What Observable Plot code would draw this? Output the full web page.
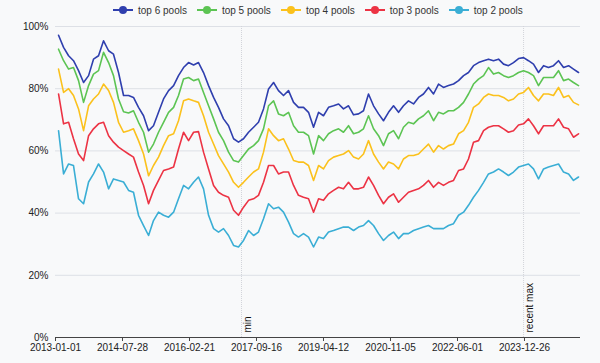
<!DOCTYPE html>
<html><head><meta charset="utf-8">
<script src="https://cdn.jsdelivr.net/npm/d3@7"></script>
<script src="https://cdn.jsdelivr.net/npm/@observablehq/plot@0.6"></script>
<style>
html,body{margin:0;padding:0;background:#f8f9fa;}
#wrap{position:relative;width:600px;height:363px;font-family:"Liberation Sans",Arial,Helvetica,sans-serif;}
#legend{position:absolute;left:113px;top:3px;height:14px;display:flex;align-items:center;gap:10px;}
.item{display:flex;align-items:center;font-size:10px;color:#333;gap:5px;white-space:nowrap;}
#chart{position:absolute;left:0;top:20px;}
</style>
</head><body>
<div id="wrap"><div id="legend"></div><div id="chart"></div></div>
<script>
const names = ["top 6 pools","top 5 pools","top 4 pools","top 3 pools","top 2 pools"];
const colors = ["#2f3fae","#5cc453","#fbc11c","#ec3344","#3aaed5"];
const dates = [
"2013-01-27","2013-03-11","2013-04-23","2013-06-04","2013-07-17","2013-08-29","2013-10-11","2013-11-22",
"2014-01-04","2014-02-16","2014-03-31","2014-05-12","2014-06-24","2014-08-06","2014-09-18","2014-10-30","2014-12-12",
"2015-01-24","2015-03-08","2015-04-19","2015-06-01","2015-07-14","2015-08-26","2015-10-08","2015-11-19",
"2016-01-01","2016-02-13","2016-03-27","2016-05-08","2016-06-20","2016-08-02","2016-09-14","2016-10-26","2016-12-08",
"2017-01-20","2017-03-04","2017-04-15","2017-05-28","2017-07-10","2017-08-22","2017-10-03","2017-11-15","2017-12-28",
"2018-02-09","2018-03-23","2018-05-05","2018-06-17","2018-07-30","2018-09-10","2018-10-23","2018-12-05",
"2019-01-17","2019-03-01","2019-04-12","2019-05-25","2019-07-07","2019-08-19","2019-09-30","2019-11-12","2019-12-25",
"2020-02-06","2020-03-19","2020-05-01","2020-06-13","2020-07-26","2020-09-06","2020-10-19","2020-12-01",
"2021-01-13","2021-02-24","2021-04-08","2021-05-21","2021-07-03","2021-08-14","2021-09-26","2021-11-08","2021-12-21",
"2022-02-01","2022-03-16","2022-04-28","2022-06-10","2022-07-23","2022-09-03","2022-10-16","2022-11-28",
"2023-01-10","2023-02-21","2023-04-05","2023-05-18","2023-06-30","2023-08-11","2023-09-23","2023-11-05","2023-12-18",
"2024-01-29","2024-03-12","2024-04-24","2024-06-06","2024-07-18","2024-08-30","2024-10-12","2024-11-24",
"2025-01-06","2025-02-17","2025-04-01"];
const top6 = [97.2,93.3,90.6,89,85.8,82,84.2,89.5,90.6,95.4,92.2,91.1,85.2,77.8,77.8,77.2,74,71.3,66.5,68.1,72.4,76.7,79.4,81,84.2,86.8,
88.4,87.6,88.4,85.2,81,77.2,74,70.3,68.1,63.9,62.8,63.9,66,67.6,69.2,73.5,79.9,82,79.4,77.8,79.4,75.6,74,74,72.4,67.6,72.4,
71.3,74,74.5,75.1,73.5,74.5,71.6,71.9,72.9,78.3,74.5,71.9,69.7,72.4,74.5,72.4,74.5,76.1,75.1,77.2,78.3,80.4,78.3,81.5,80.4,81,81.5,
82.6,84.2,85.2,87.4,88.4,89,89.5,89,89.5,87.9,87.4,88.4,89.7,90,89,87.9,85.2,87.4,86.8,87.4,89,86.8,87.4,86.3,85.2];
const top5 = [92.7,89,86.3,86.8,82.6,75.6,81,84.7,85.8,91.7,88.4,84.2,76.7,72.6,72.2,72.9,69.2,66,59.6,62.2,66,69.2,72.4,74,77.8,83.1,
83.6,82.6,83.1,78.8,74.5,70.3,66,63.3,59.6,56.9,56.4,58.5,60.6,61.7,63.3,67.1,74.5,76.1,71.9,71.3,72.4,68.1,66,66,64.9,59,64.9,
63.3,65.5,66.5,67.1,66,68.1,65.5,66,67.1,71.3,67.1,64.9,61.7,65.5,66.5,63.9,67.6,69.2,68.7,70.3,71.3,72.9,69.7,72.4,71.9,72.9,72.9,
74,75.6,78.3,81.5,83.1,84.2,86.8,84.7,85.2,84.2,83.6,84.2,85.2,85.8,85.2,84.2,81,83.6,83.6,83.6,85.8,82.6,83.1,82,81];
const top4 = [86.3,78.8,80,77.8,73.5,66.5,74.5,76.7,78.3,81.5,79.4,75.6,69.2,66,66.5,67.1,63.3,59,52,55.3,58,61.7,64.9,65.5,69.7,76.1,
76.7,76.1,75.6,71.3,66,62.2,58.5,55.8,53.2,49.9,48.3,49.9,51.6,53.2,54.2,59.6,67.1,64.9,63.3,63.9,60.6,56.9,56.4,56.4,55.3,50.5,55.3,
54.2,56.9,58,58.5,59,60.1,58,57.4,59,63.3,59,56.4,54.2,56.4,55.8,54.2,57.4,58.5,58.5,59,60.6,62.2,59.6,61.7,60.6,61.7,62.2,
65.5,66.5,69.2,74,75.1,77.2,78.3,77.8,77.8,77.2,76.1,76.7,78.3,78.8,80.4,77.8,76.1,78.3,78.3,77.8,80.4,77.2,77.8,75.6,74.8];
const top3 = [78.3,68.7,69.2,63.9,59,56.9,64.9,67.1,68.7,69.2,64.9,62.8,61.2,60.1,59,58,53.2,48.9,43,47.3,50.5,53.7,54.2,54.8,60.6,66,
63.3,66,66.2,59.6,54.2,48.9,46.7,45.7,45.1,40.9,39.3,41.9,44.1,44.6,45.7,49.9,55.3,55.3,52.6,53.2,53.2,48.9,45.7,45.1,44.6,40.3,44.6,
44.1,46.2,47.3,48.3,47.8,49.9,47.8,47.8,48.3,51.6,48.9,45.7,43,45.1,46.2,43.5,45.1,46.7,47.3,47.8,48.9,50.5,48.3,49.9,48.9,49.9,50.5,
53.7,54.2,57.4,62.8,63.3,66.5,67.6,68.1,68.1,67.1,66,66.5,68.3,68.7,70.3,68.1,65.5,68.1,68.1,68.1,70.3,67.6,67.1,64.4,65.5];
const top2 = [66.5,52.6,55.8,55.3,44.6,43,50,52.6,55.8,53.2,47.8,51,50.5,50,47.3,46.7,39.3,36,32.8,37.6,40.3,39.3,38.7,40.3,44.6,48.9,
47.8,49.9,51.6,47.8,39.3,35,33.9,35,32.8,29.6,29.1,31.2,34.4,32.8,33.9,38.2,43,41.4,41.9,40.3,37.1,33.4,32.3,33.4,32.3,29.1,32.3,
31.8,33.9,34.4,35,35.5,35.5,34.4,35.5,36,37.6,36,33.4,31.2,32.8,33.9,31.8,33.4,33.4,34.4,35,35.5,36,35,35,35,36,36.6,
39.3,40.3,42.5,45.1,47.3,49.9,52.6,53.2,54.2,53.2,52.1,53.2,54.8,55.3,55.8,54.2,51,54.2,54.8,55.3,55.8,53.2,52.6,50.5,51.6];
const yTicks = [0,20,40,60,80,100];
const xTickLabels = ["2013-01-01","2014-07-28","2016-02-21","2017-09-16","2019-04-12","2020-11-05","2022-06-01","2023-12-26"];
const annotDates = ["2017-05-11","2023-12-18"];
const annotLabels = ["min","recent max"];

const seriesValues = [top6, top5, top4, top3, top2];
const data = [];
seriesValues.forEach((vals, i) => dates.forEach((d, j) => data.push({date: new Date(d), value: vals[j], name: names[i]})));
const annotations = annotDates.map((d, i) => ({date: new Date(d), label: annotLabels[i]}));
const xTicks = xTickLabels.map(d => new Date(d));

// legend
const legend = document.getElementById("legend");
names.forEach((n, i) => {
  const it = document.createElement("div");
  it.className = "item";
  it.innerHTML = `<svg width="20" height="10"><line x1="0" x2="20" y1="5" y2="5" stroke="${colors[i]}" stroke-width="2"/><circle cx="10" cy="5" r="4" fill="${colors[i]}"/></svg><span>${n}</span>`;
  legend.appendChild(it);
});

const fmt = d3.utcFormat("%Y-%m-%d");
const chart = Plot.plot({
  width: 600, height: 343,
  marginTop: 6, marginLeft: 55, marginRight: 20, marginBottom: 26,
  style: {background: "transparent", fontFamily: '"Liberation Sans", Arial, Helvetica, sans-serif', fontSize: "10px", color: "#333", overflow: "visible"},
  x: {type: "utc", domain: [new Date("2013-01-01"), new Date("2025-04-18")]},
  y: {domain: [0, 100]},
  color: {domain: names, range: colors},
  marks: [
    Plot.gridY(yTicks.filter(d => d > 0), {stroke: "#dde0e6", strokeOpacity: 1}),
    Plot.ruleX(annotations, {x: "date", stroke: "#d2d4da", strokeDasharray: "1,1"}),
    Plot.axisY(yTicks, {tickSize: 0, tickPadding: 7, tickFormat: d => d + "%", label: null, fill: "#222"}),
    Plot.axisX(xTicks, {tickSize: 4, tickPadding: 2, tickFormat: fmt, label: null, fill: "#222", stroke: "#444"}),
    Plot.ruleY([0], {stroke: "#444"}),
    Plot.line(data, {x: "date", y: "value", z: "name", stroke: "name", strokeWidth: 1.6}),
    Plot.text(annotations, {x: "date", text: "label", frameAnchor: "bottom", rotate: -90, textAnchor: "start", dx: 9, dy: -5, fill: "#111", fontSize: 10})
  ]
});
document.getElementById("chart").appendChild(chart);
</script>
</body></html>
